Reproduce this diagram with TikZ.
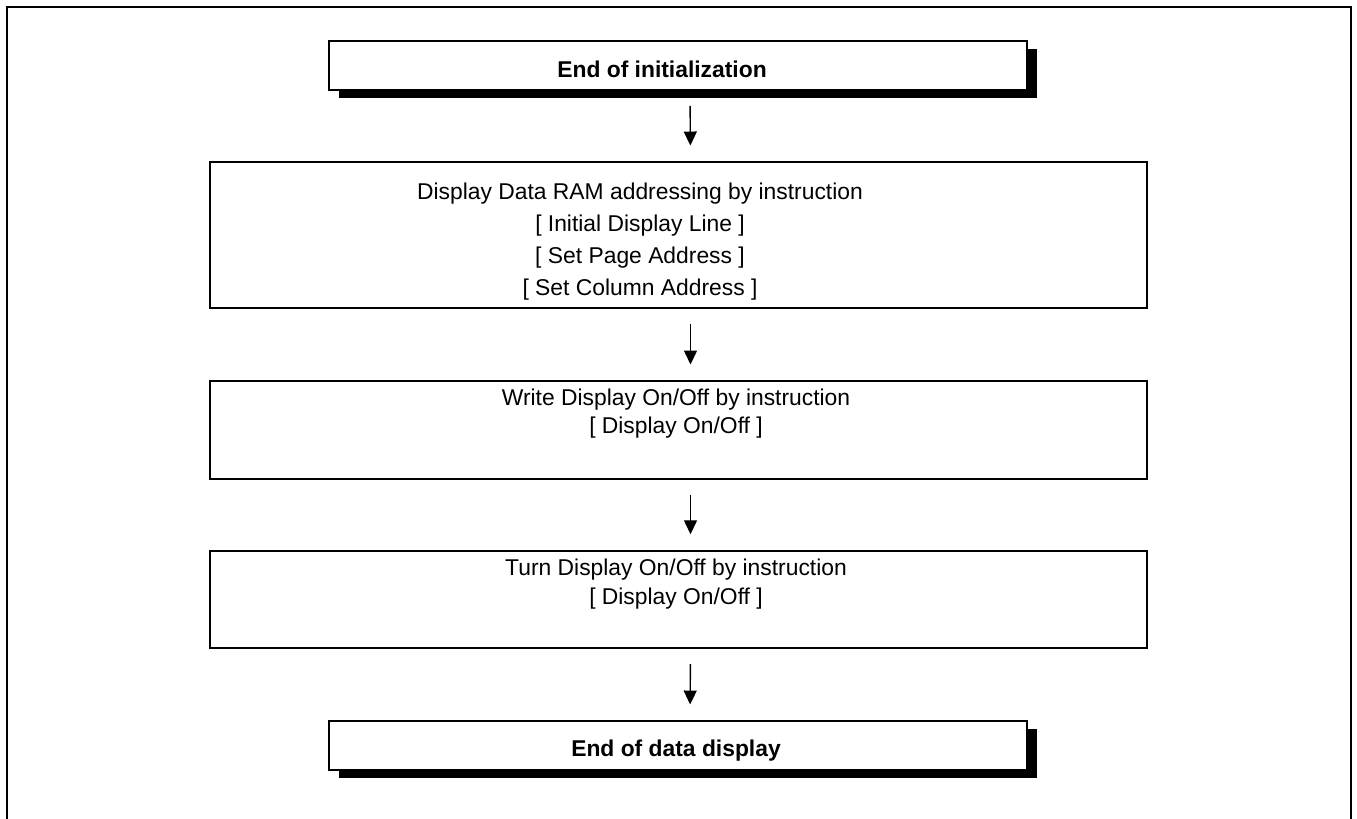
\documentclass[tikz,border=0pt]{standalone}
\usepackage{fontspec}
\setmainfont{Liberation Sans}
\usetikzlibrary{positioning,arrows.meta,shadows,calc}

\begin{document}
\begin{tikzpicture}[
  font=\fontsize{13}{18.2}\selectfont, >={Triangle[length=0.28cm,width=0.26cm]},
  stepbox/.style={draw, line width=1.1pt, fill=white, inner sep=0pt},
  endbox/.style={stepbox, minimum width=13.96cm, minimum height=0.98cm,
                 drop shadow={shadow xshift=0.19cm, shadow yshift=-0.16cm, fill=black, opacity=1}},
  midbox/.style={stepbox, minimum width=18.74cm},
  steptext/.style={align=center, inner sep=0pt},
  endtext/.style={anchor=base, inner sep=0pt, font=\fontsize{13}{18.2}\selectfont\bfseries},
  flow/.style={->, line width=0.8pt, shorten <=0.3cm, shorten >=0.31cm},
]
  \useasboundingbox (0,0) rectangle (27.14,-16.38);

  % outer frame, open at the bottom
  \draw[line width=1.5pt] (0.14,-16.6) -- (0.14,-0.14) -- (27.02,-0.14) -- (27.02,-16.6);

  % boxes
  \node[endbox] (b0) at (13.56,-1.31) {};
  \node[midbox, minimum height=2.92cm] (b1) at (13.57,-4.70) {};
  \node[midbox, minimum height=1.96cm] (b2) at (13.57,-8.60) {};
  \node[midbox, minimum height=1.95cm] (b3) at (13.57,-11.99) {};
  \node[endbox] (b4) at (13.56,-14.91) {};

  % texts
  \node[endtext] (t0) at (13.24,-1.56) {End of initialization};
  \node[steptext, anchor=north] (t1) at (12.80,-3.66)
       {Display Data RAM addressing by instruction\\{[ Initial Display Line ]}\\%
        {[ Set Page Address ]}\\{[ Set Column Address ]}};
  \node[steptext, anchor=north, font=\fontsize{13}{16.2}\selectfont] (t2) at (13.52,-7.77)
       {Write Display On/Off by instruction\\{[ Display On/Off ]}};
  \node[steptext, anchor=north, font=\fontsize{13}{16.2}\selectfont] (t3) at (13.52,-11.18)
       {Turn Display On/Off by instruction\\{[ Display On/Off ]}};
  \node[endtext] (t4) at (13.52,-15.13) {End of data display};

  % arrows
  \draw[flow] ([xshift=0.24cm]b0.south) -- ([xshift=0.24cm]b1.north);
  \draw[flow] ([xshift=0.24cm]b1.south) -- ([xshift=0.24cm]b2.north);
  \draw[flow] ([xshift=0.24cm]b2.south) -- ([xshift=0.24cm]b3.north);
  \draw[flow] ([xshift=0.24cm]b3.south) -- ([xshift=0.24cm]b4.north);
\end{tikzpicture}
\end{document}
